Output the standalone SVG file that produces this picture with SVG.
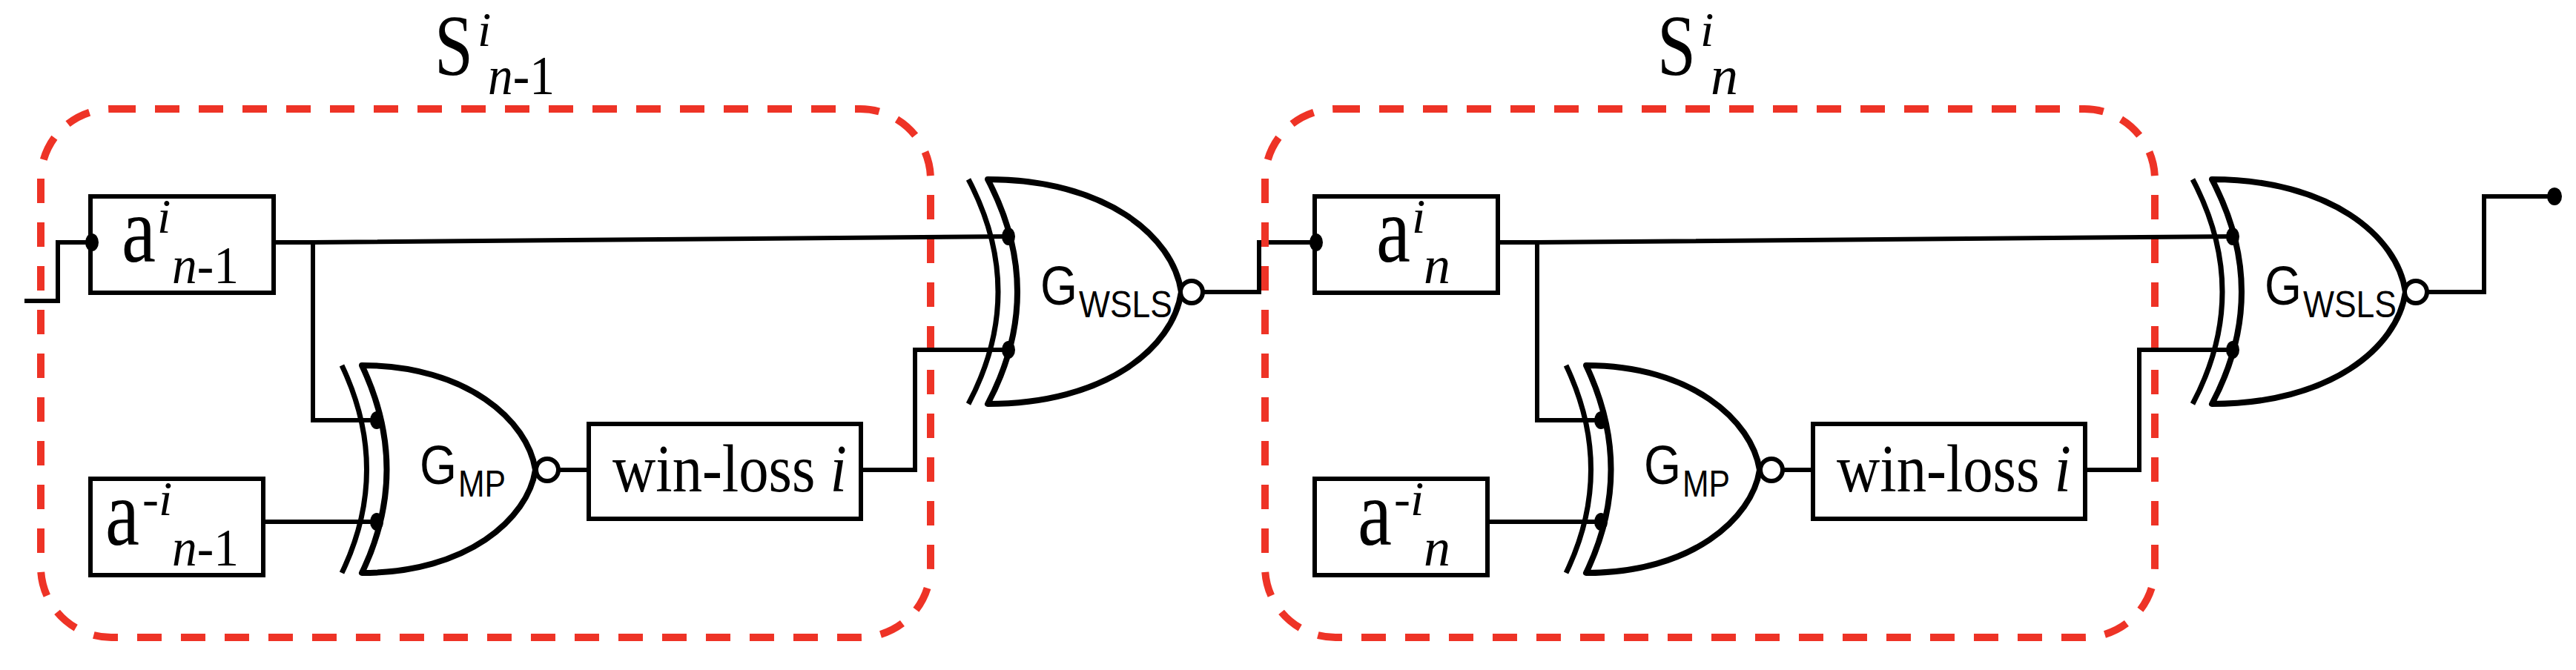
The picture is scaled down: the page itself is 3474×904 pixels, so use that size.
<svg xmlns="http://www.w3.org/2000/svg" width="3474" height="904" viewBox="0 0 3474 904">
<style>
.w{fill:none;stroke:#000;stroke-width:6}
.b{fill:#fff;stroke:#000;stroke-width:6}
.g{fill:#fff;stroke:#000;stroke-width:8;stroke-linejoin:round}
.x{fill:none;stroke:#000;stroke-width:7}
.d{fill:none;stroke:#EE3326;stroke-width:10;stroke-dasharray:33 26}
.dot{fill:#000}
.bub{fill:#fff;stroke:#000;stroke-width:6}
.s{font-family:"Liberation Serif",serif;fill:#000}
.i{font-style:italic}
.h{font-family:"Liberation Sans",Arial,sans-serif;fill:#000}
</style>
<defs>
<g id="stage">
<rect class="d" x="55" y="147" width="1200" height="713" rx="95"/>
<g class="w">
<polyline points="369,327 422,327 1362,319"/>
<polyline points="422,327 422,567 510,567"/>
<line x1="355" y1="704" x2="510" y2="704"/>
<line x1="753" y1="634" x2="794" y2="634"/>
<polyline points="1161,634 1234,634 1234,472 1362,472"/>
</g>
<rect class="b" x="122" y="265" width="247" height="130"/>
<rect class="b" x="122" y="646" width="233" height="130"/>
<rect class="b" x="794" y="572" width="367" height="128"/>
<path class="g" d="M488,493 Q555,634 488,773 C630,773 712,700 722,634 C712,568 630,493 488,493 Z"/>
<path class="x" d="M461,493 Q528,634 461,773"/>
<circle class="bub" cx="738" cy="634" r="15"/>
<path class="g" d="M1332,242 Q1412,394 1332,545 C1490,545 1582,470 1593,394 C1582,318 1490,242 1332,242 Z"/>
<path class="x" d="M1306,242 Q1386,394 1306,545"/>
<circle class="bub" cx="1607" cy="394" r="15"/>
<ellipse class="dot" cx="508" cy="567" rx="9" ry="12"/>
<ellipse class="dot" cx="508" cy="704" rx="9" ry="12"/>
<ellipse class="dot" cx="1360" cy="319" rx="9" ry="12"/>
<ellipse class="dot" cx="1360" cy="472" rx="9" ry="12"/>
<text class="h" x="566" y="653" font-size="74" textLength="50" lengthAdjust="spacingAndGlyphs">G</text>
<text class="h" x="618" y="670" font-size="50" textLength="64" lengthAdjust="spacingAndGlyphs">MP</text>
<text class="h" x="1403" y="411" font-size="74" textLength="50" lengthAdjust="spacingAndGlyphs">G</text>
<text class="h" x="1455" y="428" font-size="50" textLength="126" lengthAdjust="spacingAndGlyphs">WSLS</text>
<text class="s" x="826" y="663" font-size="90" textLength="316" lengthAdjust="spacingAndGlyphs">win-loss <tspan class="i">i</tspan></text>
</g>
</defs>
<g id="connectors" class="w">
<polyline points="33,406 78,406 78,327 122,327"/>
<polyline points="1622,394 1698,394 1698,327 1773,327"/>
<polyline points="3273,394 3350,394 3350,265 3445,265"/>
</g>
<g id="stage1"><use href="#stage"/></g>
<g id="stage2"><use href="#stage" transform="translate(1651,0)"/></g>
<g id="dots">
<ellipse class="dot" cx="124" cy="327" rx="9" ry="12"/>
<ellipse class="dot" cx="1775" cy="327" rx="9" ry="12"/>
<ellipse class="dot" cx="3445" cy="265" rx="10" ry="12"/>
</g>
<g id="labels">
<text class="s" x="586" y="101" font-size="116" textLength="52" lengthAdjust="spacingAndGlyphs">S</text>
<text class="s i" x="644" y="62" font-size="66">i</text>
<text class="s" x="658" y="127" font-size="74" textLength="90" lengthAdjust="spacingAndGlyphs"><tspan class="i">n</tspan>-1</text>
<text class="s" x="2235" y="101" font-size="116" textLength="52" lengthAdjust="spacingAndGlyphs">S</text>
<text class="s i" x="2293" y="62" font-size="66">i</text>
<text class="s i" x="2307" y="127" font-size="74">n</text>
<text class="s" x="164" y="353" font-size="126" textLength="46" lengthAdjust="spacingAndGlyphs">a</text>
<text class="s i" x="212" y="314" font-size="66">i</text>
<text class="s" x="232" y="382" font-size="72" textLength="90" lengthAdjust="spacingAndGlyphs"><tspan class="i">n</tspan>-1</text>
<text class="s" x="142" y="735" font-size="126" textLength="46" lengthAdjust="spacingAndGlyphs">a</text>
<text class="s" x="192" y="695" font-size="66">-<tspan class="i">i</tspan></text>
<text class="s" x="232" y="763" font-size="72" textLength="90" lengthAdjust="spacingAndGlyphs"><tspan class="i">n</tspan>-1</text>
<text class="s" x="1856" y="353" font-size="126" textLength="46" lengthAdjust="spacingAndGlyphs">a</text>
<text class="s i" x="1904" y="314" font-size="66">i</text>
<text class="s i" x="1920" y="382" font-size="72">n</text>
<text class="s" x="1831" y="735" font-size="126" textLength="46" lengthAdjust="spacingAndGlyphs">a</text>
<text class="s" x="1880" y="695" font-size="66">-<tspan class="i">i</tspan></text>
<text class="s i" x="1920" y="763" font-size="72">n</text>
</g>
</svg>
